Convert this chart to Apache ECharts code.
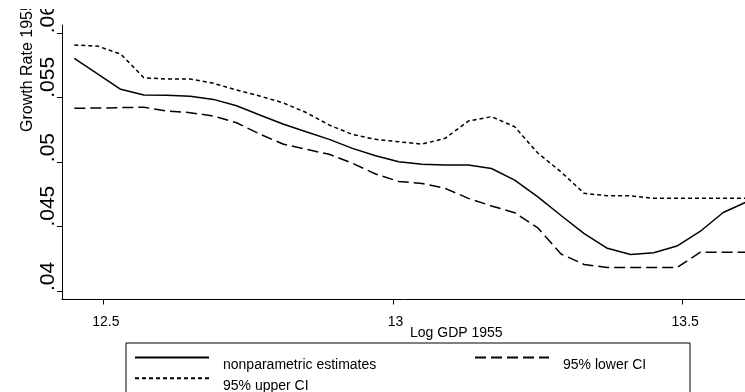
<!DOCTYPE html>
<html>
<head>
<meta charset="utf-8">
<script src="https://cdn.jsdelivr.net/npm/echarts@6/dist/echarts.min.js"></script>
<style>html,body{margin:0;padding:0;background:#fff}#c{width:745px;height:392px}</style>
</head>
<body>
<div id="c"></div>
<script>
// Log GDP 1955 grid points
const logGDP = [12.45,12.49,12.53,12.57,12.61,12.65,12.69,12.73,12.77,12.81,12.85,12.89,12.93,12.97,13.01,13.05,13.09,13.13,13.17,13.21,13.25,13.29,13.33,13.37,13.41,13.45,13.49,13.53,13.57,13.61];
const estimates = [0.05806,0.05686,0.05565,0.05521,0.05520,0.05512,0.05487,0.05438,0.05366,0.05296,0.05236,0.05177,0.05107,0.05049,0.05003,0.04984,0.04977,0.04977,0.04951,0.04861,0.04730,0.04586,0.04445,0.04331,0.04283,0.04297,0.04349,0.04462,0.04609,0.04691];
const lowerCI = [0.05418,0.05420,0.05423,0.05426,0.05397,0.05384,0.05358,0.05306,0.05218,0.05141,0.05100,0.05061,0.04991,0.04908,0.04850,0.04834,0.04797,0.04719,0.04660,0.04608,0.04489,0.04287,0.04206,0.04182,0.04182,0.04182,0.04182,0.04300,0.04300,0.04300];
const upperCI = [0.05909,0.05901,0.05839,0.05655,0.05645,0.05645,0.05612,0.05560,0.05513,0.05461,0.05385,0.05288,0.05215,0.05177,0.05158,0.05140,0.05185,0.05319,0.05353,0.05275,0.05071,0.04924,0.04758,0.04739,0.04739,0.04719,0.04719,0.04719,0.04719,0.04719];
const seriesNames = ['nonparametric estimates', '95% lower CI', '95% upper CI'];
const xTitle = 'Log GDP 1955';
const yTitle = 'Growth Rate 1955';
// axis extents (plot frame) and tick range
const xFrame = [12.42872, 13.60753];
const yFrame = [0.039340, 0.060644];
const xTickRange = [12.5, 13.5];
const yTickRange = [0.04, 0.06];

const pair = arr => arr.map((v, i) => [logGDP[i], v]);
const font = "'Liberation Sans', Arial, sans-serif";

const chart = echarts.init(document.getElementById('c'), null, {renderer: 'canvas'});
chart.setOption({
  animation: false,
  backgroundColor: '#fff',
  grid: [
    {left: 62, right: 0, top: 25, bottom: 92.5, containLabel: false},
    {left: 103.3, right: 62.3, top: 33.3, bottom: 101, containLabel: false}
  ],
  xAxis: [
    {gridIndex: 0, type: 'value', min: xFrame[0], max: xFrame[1],
     axisLine: {show: true, lineStyle: {color: '#000', width: 1}},
     axisTick: {show: false}, axisLabel: {show: false}, splitLine: {show: false},
     name: xTitle, nameLocation: 'middle', nameGap: 27, nameMoveOverlap: false,
     nameTextStyle: {color: '#000', fontSize: 14, fontFamily: font, align: 'left', padding: [0, 0, 0, 6.5]}},
    {gridIndex: 1, type: 'value', min: xTickRange[0], max: xTickRange[1], interval: 0.5, offset: 8.5,
     axisLine: {show: false}, axisTick: {show: true, length: 5, lineStyle: {color: '#000'}},
     axisLabel: {margin: 15.5, color: '#000', fontSize: 14, fontFamily: font, padding: [0, 0, 0, 5]},
     splitLine: {show: false}}
  ],
  yAxis: [
    {gridIndex: 0, type: 'value', min: yFrame[0], max: yFrame[1],
     axisLine: {show: true, lineStyle: {color: '#000', width: 1}},
     axisTick: {show: false}, axisLabel: {show: false}, splitLine: {show: false}},
    {gridIndex: 1, type: 'value', min: yTickRange[0], max: yTickRange[1], interval: 0.005, offset: 41.3,
     axisLine: {show: false}, axisTick: {show: true, length: 5, lineStyle: {color: '#000'}},
     axisLabel: {rotate: 90, align: 'left', verticalAlign: 'middle', margin: 13.5, color: '#000', fontSize: 21, fontFamily: font,
       formatter: v => v.toFixed(3).replace(/0+$/, '').replace(/^0/, '')},
     splitLine: {show: false}}
  ],
  legend: {
    left: 126, top: 343, width: 550,
    orient: 'horizontal',
    padding: [9, 8, 0, 8],
    borderColor: '#000', borderWidth: 1, borderRadius: 0,
    itemWidth: 74, itemHeight: 14, itemGap: 0,
    itemStyle: {opacity: 0, borderWidth: 0},
    formatter: name => (name === seriesNames[1] ? '{n|' : '{w|') + name + '}',
    data: seriesNames,
    textStyle: {color: '#000', fontSize: 14, fontFamily: font, padding: [16, 0, 0, 9],
      rich: {
        w: {color: '#000', fontSize: 14, fontFamily: font, lineHeight: 7.6, width: 251},
        n: {color: '#000', fontSize: 14, fontFamily: font, lineHeight: 7.6, width: 119}
      }}
  },
  graphic: [
    {type: 'text', x: 27.5, y: 132, rotation: Math.PI / 2, z: 50,
     style: {text: yTitle, fontSize: 16, fontFamily: font, fill: '#000', align: 'left', verticalAlign: 'middle'}},
    {type: 'rect', shape: {x: 0, y: 0, width: 60, height: 9}, style: {fill: '#fff'}, z: 100}
  ],
  series: [
    {name: seriesNames[0], type: 'line', xAxisIndex: 0, yAxisIndex: 0, data: pair(estimates),
     symbol: 'none', showSymbol: false, lineStyle: {color: '#000', width: 1.5, type: 'solid'}, itemStyle: {color: '#000'}},
    {name: seriesNames[1], type: 'line', xAxisIndex: 0, yAxisIndex: 0, data: pair(lowerCI),
     symbol: 'none', showSymbol: false, lineStyle: {color: '#000', width: 1.5, type: [11, 5]}, itemStyle: {color: '#000'}},
    {name: seriesNames[2], type: 'line', xAxisIndex: 0, yAxisIndex: 0, data: pair(upperCI),
     symbol: 'none', showSymbol: false, lineStyle: {color: '#000', width: 1.5, type: [4, 3]}, itemStyle: {color: '#000'}}
  ]
});
</script>
</body>
</html>
